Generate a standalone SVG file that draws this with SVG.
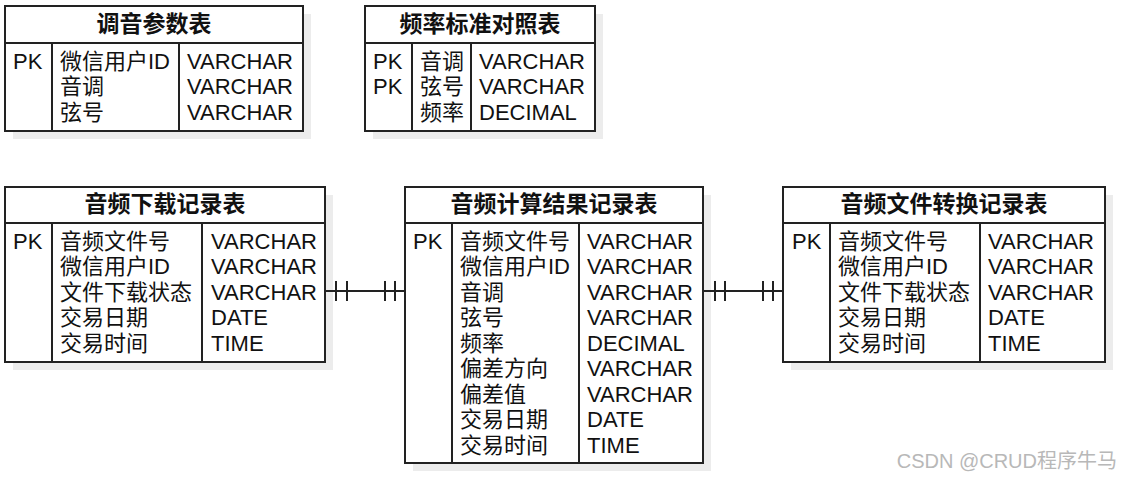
<svg xmlns="http://www.w3.org/2000/svg" width="1122" height="482" viewBox="0 0 1122 482">
<style>
text{font-family:"Liberation Sans","Noto Sans CJK SC",sans-serif;font-size:22px;fill:#111}
.t{font-weight:bold;text-anchor:middle;font-size:23px}
.box{fill:#fff;stroke:#222;stroke-width:2}
.sh{fill:#ececec}
.ln{stroke:#222;stroke-width:2;fill:none}
.wm{font-size:20px;fill:#b8b8b8;text-anchor:end}
</style>
<rect width="1122" height="482" fill="#fff"/>
<g id="t1">
<rect class="sh" x="13" y="14" width="298" height="125"/>
<rect class="box" x="5" y="6" width="298" height="125"/>
<path class="ln" d="M5 43H303M52 43V131M179 43V131"/>
<text class="t" x="154" y="32">调音参数表</text>
<text x="13" y="68.5">PK</text>
<text x="60" y="68.5">微信用户ID</text><text x="60" y="94">音调</text><text x="60" y="119.5">弦号</text>
<text x="187" y="68.5">VARCHAR</text><text x="187" y="94">VARCHAR</text><text x="187" y="119.5">VARCHAR</text>
</g>
<g id="t2">
<rect class="sh" x="373" y="14" width="230" height="125"/>
<rect class="box" x="365" y="6" width="230" height="125"/>
<path class="ln" d="M365 43H595M412 43V131M471 43V131"/>
<text class="t" x="480" y="32">频率标准对照表</text>
<text x="373" y="68.5">PK</text><text x="373" y="94">PK</text>
<text x="420" y="68.5">音调</text><text x="420" y="94">弦号</text><text x="420" y="119.5">频率</text>
<text x="479" y="68.5">VARCHAR</text><text x="479" y="94">VARCHAR</text><text x="479" y="119.5">DECIMAL</text>
</g>
<g id="t3">
<rect class="sh" x="13" y="195" width="320" height="175"/>
<rect class="box" x="5" y="187" width="320" height="175"/>
<path class="ln" d="M5 223H325M52 223V362M202 223V362"/>
<text class="t" x="165" y="212">音频下载记录表</text>
<text x="13" y="248.5">PK</text>
<text x="60" y="248.5">音频文件号</text><text x="60" y="274">微信用户ID</text><text x="60" y="299.5">文件下载状态</text><text x="60" y="325">交易日期</text><text x="60" y="350.5">交易时间</text>
<text x="211" y="248.5">VARCHAR</text><text x="211" y="274">VARCHAR</text><text x="211" y="299.5">VARCHAR</text><text x="211" y="325">DATE</text><text x="211" y="350.5">TIME</text>
</g>
<g id="t4">
<rect class="sh" x="413" y="195" width="298" height="276"/>
<rect class="box" x="405" y="187" width="298" height="276"/>
<path class="ln" d="M405 223H703M452 223V463M579 223V463"/>
<text class="t" x="554" y="212">音频计算结果记录表</text>
<text x="413" y="248.5">PK</text>
<text x="460" y="248.5">音频文件号</text><text x="460" y="274">微信用户ID</text><text x="460" y="299.5">音调</text><text x="460" y="325">弦号</text><text x="460" y="350.5">频率</text><text x="460" y="376">偏差方向</text><text x="460" y="401.5">偏差值</text><text x="460" y="427">交易日期</text><text x="460" y="452.5">交易时间</text>
<text x="587" y="248.5">VARCHAR</text><text x="587" y="274">VARCHAR</text><text x="587" y="299.5">VARCHAR</text><text x="587" y="325">VARCHAR</text><text x="587" y="350.5">DECIMAL</text><text x="587" y="376">VARCHAR</text><text x="587" y="401.5">VARCHAR</text><text x="587" y="427">DATE</text><text x="587" y="452.5">TIME</text>
</g>
<g id="t5">
<rect class="sh" x="791" y="195" width="322" height="175"/>
<rect class="box" x="783" y="187" width="322" height="175"/>
<path class="ln" d="M783 223H1105M830 223V362M980 223V362"/>
<text class="t" x="944" y="212">音频文件转换记录表</text>
<text x="792" y="248.5">PK</text>
<text x="838" y="248.5">音频文件号</text><text x="838" y="274">微信用户ID</text><text x="838" y="299.5">文件下载状态</text><text x="838" y="325">交易日期</text><text x="838" y="350.5">交易时间</text>
<text x="988" y="248.5">VARCHAR</text><text x="988" y="274">VARCHAR</text><text x="988" y="299.5">VARCHAR</text><text x="988" y="325">DATE</text><text x="988" y="350.5">TIME</text>
</g>
<g id="connectors">
<path class="ln" d="M326 291H405M336 281V301M347 281V301M385 281V301M395 281V301"/>
<path class="ln" d="M704 291H783M715 281V301M725 281V301M763 281V301M773 281V301"/>
</g>
<text class="wm" x="1117" y="468">CSDN @CRUD程序牛马</text>
</svg>
